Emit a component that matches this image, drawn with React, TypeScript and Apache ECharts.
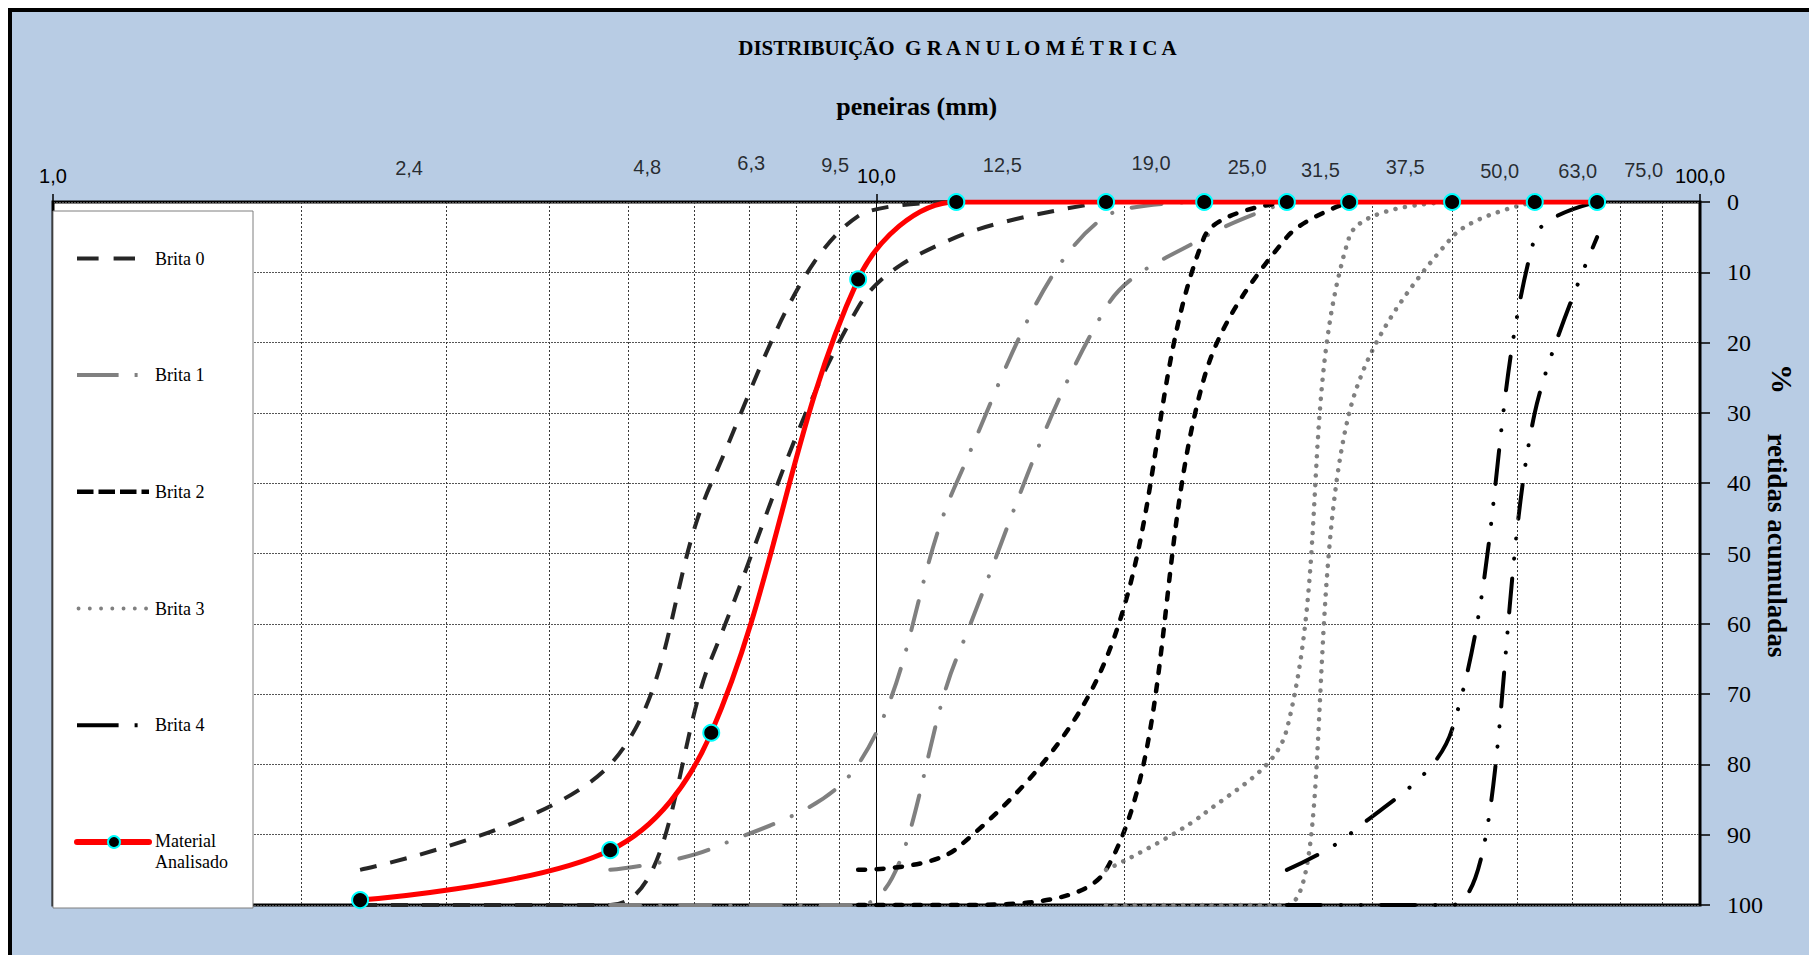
import React, { useEffect, useRef } from 'react';
import * as echarts from 'echarts';

// Sieve openings (mm) and their printed labels
const sieves = [2.36, 4.75, 6.3, 9.5, 12.5, 19, 25, 31.5, 37.5, 50, 63, 75];
const sieveLabels = ['2,4', '4,8', '6,3', '9,5', '12,5', '19,0', '25,0', '31,5', '37,5', '50,0', '63,0', '75,0'];

// % retained (cumulative) – limits of each gravel zone, aligned with sieves
const brita0Lower = [95, 80, 40, 2, 0, null, null, null, null, null, null, null];
const brita0Upper = [100, 100, 65, 15, 5, 0, null, null, null, null, null, null];
const brita1Lower = [null, 95, 92, 80, 40, 2, 0, null, null, null, null, null];
const brita1Upper = [null, 100, 100, 100, 65, 15, 5, 0, null, null, null, null];
const brita2Lower = [null, null, null, 95, 92, 65, 5, 0, null, null, null, null];
const brita2Upper = [null, null, null, 100, 100, 95, 25, 5, 0, null, null, null];
const brita3Lower = [null, null, null, null, null, 95, 87, 75, 5, 0, null, null];
const brita3Upper = [null, null, null, null, null, 100, 100, 100, 30, 5, 0, null];
const brita4Lower = [null, null, null, null, null, null, null, 95, 90, 75, 5, 0];
const brita4Upper = [null, null, null, null, null, null, null, 100, 100, 100, 30, 5];
const materialAnalisado = [99.3, 92.2, 75.5, 11, 0, 0, 0, 0, 0, 0, 0, 0];

// minor log grid lines
const minorGrid = [2, 3, 4, 5, 6, 7, 8, 9, 20, 30, 40, 50, 60, 70, 80, 90];

// y-axis ticks
const yTicks = [0, 10, 20, 30, 40, 50, 60, 70, 80, 90, 100];

// ---- styles (kept apart from the data) ----
const sieveLabelOffsets = [
  [49, -34.5], [37, -35.5], [40, -39], [-23, -37], [46, -37], [45, -39],
  [43, -34.7], [33.6, -32], [56, -35], [47.6, -31.5], [43, -31.5], [46.5, -32],
];

const lineStyles: Record<string, any> = {
  'Brita 0': { color: '#262626', width: 4, type: [17, 14], cap: 'butt' },
  'Brita 1': { color: '#808080', width: 4, type: [30, 20, 0.1, 20], cap: 'round' },
  'Brita 2': { color: '#000000', width: 4.5, type: [7, 11.5], cap: 'round' },
  'Brita 3': { color: '#808080', width: 4.5, type: [0.1, 9.5], cap: 'round' },
  'Brita 4': { color: '#000000', width: 4, type: [34, 20, 0.1, 20, 0.1, 20], cap: 'round' },
};

const curves: { name: string; values: (number | null)[] }[] = [
  { name: 'Brita 0', values: brita0Lower },
  { name: 'Brita 0', values: brita0Upper },
  { name: 'Brita 1', values: brita1Lower },
  { name: 'Brita 1', values: brita1Upper },
  { name: 'Brita 2', values: brita2Lower },
  { name: 'Brita 2', values: brita2Upper },
  { name: 'Brita 3', values: brita3Lower },
  { name: 'Brita 3', values: brita3Upper },
  { name: 'Brita 4', values: brita4Lower },
  { name: 'Brita 4', values: brita4Upper },
];

const pairs = (values: (number | null)[]) =>
  sieves.map((s, i) => [s, values[i]]).filter((p) => p[1] !== null);

const fmt = (v: number) => Number(v).toFixed(1).replace('.', ',');

const SERIF = '"Liberation Serif", "Times New Roman", serif';
const SANS = '"Liberation Sans", Arial, sans-serif';

function legendGraphics() {
  const items: any[] = [];
  items.push({
    type: 'rect', z: 100,
    shape: { x: 41, y: 199, width: 200, height: 697 },
    style: { fill: '#ffffff', stroke: '#7f7f7f', lineWidth: 1 },
  });
  const ys = [246.5, 363, 479.7, 596.5, 713.3];
  const samples: any[] = [
    { x1: 65, x2: 123, stroke: '#262626', lineWidth: 4, lineDash: [21.6, 15], lineCap: 'butt' },
    { x1: 65, x2: 126, stroke: '#808080', lineWidth: 4, lineDash: [41.6, 16, 3, 50], lineCap: 'butt' },
    { x1: 65, x2: 137, stroke: '#000000', lineWidth: 4.5, lineDash: [16.5, 5], lineCap: 'butt' },
    { x1: 66.5, x2: 134.2, stroke: '#808080', lineWidth: 3.8, lineDash: [0.1, 11.15], lineCap: 'round' },
    { x1: 65, x2: 126, stroke: '#000000', lineWidth: 4, lineDash: [41.6, 16, 3, 50], lineCap: 'butt' },
  ];
  const names = ['Brita 0', 'Brita 1', 'Brita 2', 'Brita 3', 'Brita 4'];
  names.forEach((n, i) => {
    const s = samples[i];
    items.push({
      type: 'line', z: 101,
      shape: { x1: s.x1, y1: ys[i], x2: s.x2, y2: ys[i] },
      style: { stroke: s.stroke, lineWidth: s.lineWidth, lineDash: s.lineDash, lineCap: s.lineCap },
    });
    items.push({
      type: 'text', z: 101, x: 143, y: ys[i],
      style: {
        text: n, fill: '#000', fontSize: 18, fontFamily: SERIF,
        align: 'left', verticalAlign: 'middle', textAlign: 'left', textVerticalAlign: 'middle',
      },
    });
  });
  // Material Analisado
  items.push({
    type: 'line', z: 101,
    shape: { x1: 65, y1: 830, x2: 137, y2: 830 },
    style: { stroke: '#ff0000', lineWidth: 6, lineCap: 'round' },
  });
  items.push({
    type: 'circle', z: 102,
    shape: { cx: 102, cy: 830, r: 6 },
    style: { fill: '#000', stroke: '#00ffff', lineWidth: 2 },
  });
  items.push({
    type: 'text', z: 101, x: 143, y: 829,
    style: {
      text: 'Material', fill: '#000', fontSize: 18, fontFamily: SERIF,
      align: 'left', verticalAlign: 'middle', textAlign: 'left', textVerticalAlign: 'middle',
    },
  });
  items.push({
    type: 'text', z: 101, x: 143, y: 850,
    style: {
      text: 'Analisado', fill: '#000', fontSize: 18, fontFamily: SERIF,
      align: 'left', verticalAlign: 'middle', textAlign: 'left', textVerticalAlign: 'middle',
    },
  });
  return items;
}

export default function App() {
  const ref = useRef<HTMLDivElement>(null);

  useEffect(() => {
    if (!ref.current) return;
    const chart = echarts.init(ref.current, null, { renderer: 'svg' });

    const series: any[] = [];

    series.push({
      type: 'line',
      name: 'grid',
      data: [],
      z: 1,
      silent: true,
      markLine: {
        silent: true,
        animation: false,
        symbol: ['none', 'none'],
        label: { show: false },
        lineStyle: { color: '#3a3a3a', width: 1, type: [2, 2] },
        data: minorGrid.map((v) => ({ xAxis: v })),
      },
    });

    curves.forEach((c) => {
      const st = lineStyles[c.name];
      series.push({
        type: 'line',
        name: c.name,
        data: pairs(c.values),
        smooth: 0.35,
        symbol: 'none',
        z: 3,
        silent: true,
        lineStyle: { color: st.color, width: st.width, type: st.type, cap: st.cap },
      });
    });

    series.push({
      type: 'line',
      name: 'Material Analisado',
      data: pairs(materialAnalisado),
      smooth: 0.35,
      symbol: 'circle',
      symbolSize: 16,
      showSymbol: true,
      z: 5,
      silent: true,
      lineStyle: { color: '#ff0000', width: 5 },
      itemStyle: { color: '#000000', borderColor: '#00ffff', borderWidth: 2 },
    });

    series.push({
      type: 'scatter',
      name: 'peneiras',
      symbolSize: 1,
      clip: false,
      silent: true,
      z: 6,
      itemStyle: { color: 'rgba(0,0,0,0)' },
      data: sieves.map((s, i) => ({ value: [s, 0], label: { offset: sieveLabelOffsets[i] } })),
      label: {
        show: true,
        position: 'inside',
        formatter: (p: any) => sieveLabels[p.dataIndex],
        color: '#000',
        fontFamily: SANS,
        fontSize: 20,
        textBorderWidth: 0,
      },
    });

    const option: any = {
      animation: false,
      backgroundColor: '#B8CCE4',
      grid: {
        left: 41, top: 190, width: 1647, height: 703,
        show: true, backgroundColor: '#ffffff', borderColor: '#000000', borderWidth: 3,
      },
      xAxis: {
        type: 'log', logBase: 10, min: 1, max: 100, position: 'top',
        axisLine: { show: false },
        axisTick: { show: true, length: 8, lineStyle: { color: '#000', width: 1.5 } },
        axisLabel: { margin: 16, formatter: (v: number) => fmt(v), fontFamily: SANS, fontSize: 20, color: '#000' },
        splitLine: { show: true, lineStyle: { color: '#000', width: 1, type: 'solid' } },
      },
      yAxis: {
        type: 'value', inverse: true, min: yTicks[0], max: yTicks[yTicks.length - 1], interval: 10, position: 'right',
        axisLine: { show: false },
        axisTick: { show: true, length: 10, lineStyle: { color: '#000', width: 1.5 } },
        axisLabel: { margin: 27, fontFamily: SERIF, fontSize: 24, color: '#000' },
        splitLine: { show: true, lineStyle: { color: '#555', width: 1, type: [2, 1] } },
      },
      series,
      graphic: [
        {
          type: 'text', x: 945.5, y: 36, z: 100,
          style: {
            text: 'DISTRIBUIÇÃO  G R A N U L O M É T R I C A', fill: '#000', fontSize: 21, fontWeight: 'bold', fontFamily: SERIF,
            align: 'center', verticalAlign: 'middle', textAlign: 'center', textVerticalAlign: 'middle',
          },
        },
        {
          type: 'text', x: 904.7, y: 94, z: 100,
          style: {
            text: 'peneiras (mm)', fill: '#000', fontSize: 26, fontWeight: 'bold', fontFamily: SERIF,
            align: 'center', verticalAlign: 'middle', textAlign: 'center', textVerticalAlign: 'middle',
          },
        },
        {
          type: 'text', x: 1770, y: 367, z: 100, rotation: -Math.PI / 2,
          style: {
            text: '%', fill: '#000', fontSize: 30, fontWeight: 'bold', fontFamily: SERIF,
            align: 'center', verticalAlign: 'middle', textAlign: 'center', textVerticalAlign: 'middle',
          },
        },
        {
          type: 'text', x: 1765, y: 533.5, z: 100, rotation: -Math.PI / 2,
          style: {
            text: 'retidas acumuladas', fill: '#000', fontSize: 27, fontWeight: 'bold', fontFamily: SERIF,
            align: 'center', verticalAlign: 'middle', textAlign: 'center', textVerticalAlign: 'middle',
          },
        },
        ...legendGraphics(),
      ],
    };

    chart.setOption(option);
    return () => chart.dispose();
  }, []);

  return (
    <div
      style={{
        position: 'fixed', left: 8, top: 8, width: 1801, height: 947, boxSizing: 'border-box',
        borderLeft: '4px solid #000', borderTop: '4px solid #000', background: '#B8CCE4', overflow: 'hidden',
      }}
    >
      <div ref={ref} style={{ width: 1797, height: 943 }} />
    </div>
  );
}
